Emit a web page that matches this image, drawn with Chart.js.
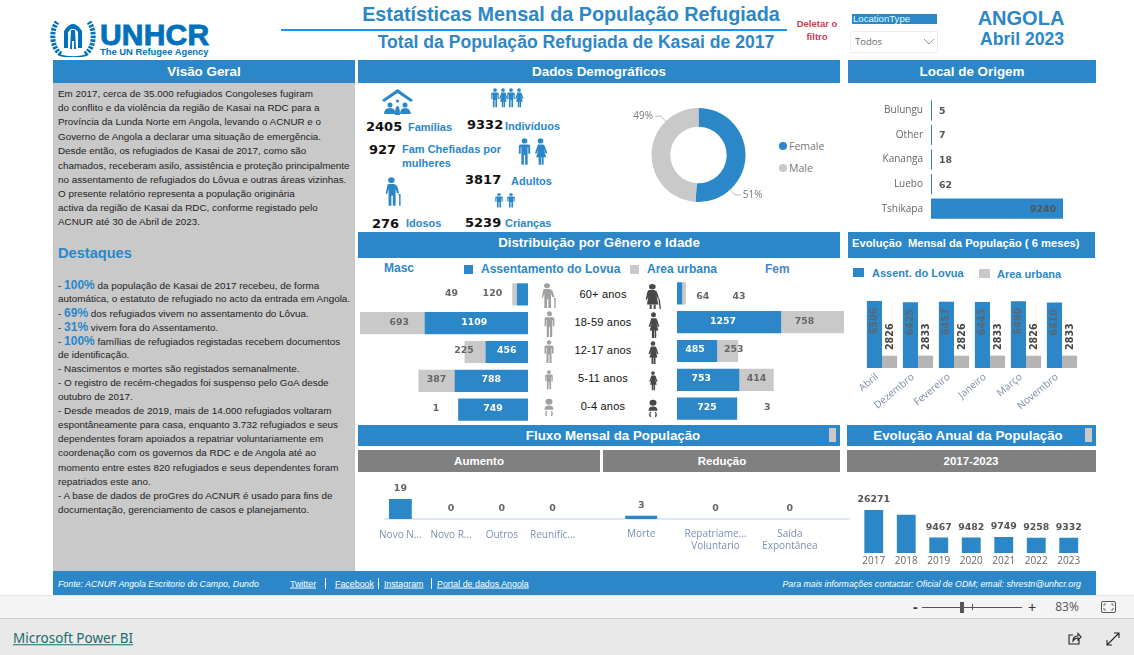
<!DOCTYPE html>
<html>
<head>
<meta charset="utf-8">
<title>Estatísticas Mensal da População Refugiada</title>
<script src="https://cdn.jsdelivr.net/npm/chart.js@4"></script>
<style>
  html, body { margin: 0; padding: 0; background: #fff; }
  #page { position: relative; width: 1134px; height: 655px; overflow: hidden; font-family: "Liberation Sans", Arial, sans-serif; }
  #page > div, #page > svg, #page > canvas { position: absolute; }
  .t { white-space: nowrap; line-height: 1; }
  .t b.hl { color: #2b87c8; font-size: 12px; font-weight: bold; }
  a { color: inherit; }
</style>
</head>
<body>
<div id="page"></div>
<script>
// ---- data ----
const genderLabels = ["Female", "Male"];
const genderShare = [51, 49];

const originPlaces = ["Bulungu", "Other", "Kananga", "Luebo", "Tshikapa"];
const originValues = [5, 7, 18, 62, 9240];

const ageGroups = ["60+ anos", "18-59 anos", "12-17 anos", "5-11 anos", "0-4 anos"];
const maleSettlement = [120, 1109, 456, 788, 749];
const maleUrban = [49, 693, 225, 387, 1];
const femaleSettlement = [64, 1257, 485, 753, 725];
const femaleUrban = [43, 758, 253, 414, 3];

const months = ["Abril", "Dezembro", "Fevereiro", "Janeiro", "Março", "Novembro"];
const monthSettlement = [6506, 6425, 6457, 6443, 6490, 6410];
const monthUrban = [2826, 2833, 2826, 2833, 2826, 2833];

const increaseTypes = ["Novo N...", "Novo R...", "Outros", "Reunific..."];
const increaseValues = [19, 0, 0, 0];
const decreaseTypes = ["Morte", ["Repatriame...", "Voluntario"], ["Saída", "Expontânea"]];
const decreaseValues = [3, 0, 0];

const years = ["2017", "2018", "2019", "2020", "2021", "2022", "2023"];
const yearTotals = [26271, 23300, 9467, 9482, 9749, 9258, 9332];

const overviewLines = [
  "Em 2017, cerca de 35.000 refugiados Congoleses fugiram",
  "do conflito e da violência da região de Kasai na RDC para a",
  "Província da Lunda Norte em Angola, levando o ACNUR e o",
  "Governo de Angola a declarar uma situação de emergência.",
  "Desde então, os refugiados de Kasai de 2017, como são",
  "chamados, receberam asilo, assistência e proteção principalmente",
  "no assentamento de refugiados do Lôvua e outras áreas vizinhas.",
  "O presente relatório representa a população originária",
  "activa da região de Kasai da RDC, conforme registado pelo",
  "ACNUR até 30 de Abril de 2023."
];
const highlightLines = [
  '- <b class="hl">100%</b> da população de Kasai de 2017 recebeu, de forma',
  "automática, o estatuto de refugiado no acto da entrada em Angola.",
  '- <b class="hl">69%</b> dos refugiados vivem no assentamento do Lôvua.',
  '- <b class="hl">31%</b> vivem fora do Assentamento.',
  '- <b class="hl">100%</b> famílias de refugiados registadas recebem documentos',
  "de identificação.",
  "- Nascimentos e mortes são registados semanalmente.",
  "- O registro de recém-chegados foi suspenso pelo GoA desde",
  "outubro de 2017.",
  "- Desde meados de 2019, mais de 14.000 refugiados voltaram",
  "espontâneamente para casa, enquanto 3.732 refugiados e seus",
  "dependentes foram apoiados a repatriar voluntariamente em",
  "coordenação com os governos da RDC e de Angola até ao",
  "momento entre estes 820 refugiados e seus dependentes foram",
  "repatriados este ano.",
  "- A base de dados de proGres do ACNUR é usado para fins de",
  "documentação, gerenciamento de casos e planejamento."
];

// ---- colours and helpers ----
const BLUE = "#2b87c8";
const GREY = "#c9c9c9";
const page = document.getElementById("page");
const valueFont = 'bold 9.4px "DejaVu Sans"';

function box(x, y, w, h, bg) {
  const d = document.createElement("div");
  d.style.cssText = `left:${x}px;top:${y}px;width:${w}px;height:${h}px;background:${bg}`;
  page.appendChild(d);
  return d;
}

// x is the left edge, centre or right edge depending on anchor, y is the vertical middle
function text(str, x, y, css, anchor) {
  const d = document.createElement("div");
  d.className = "t";
  d.innerHTML = str;
  const tx = anchor == "c" ? "-50%" : anchor == "r" ? "-100%" : "0";
  d.style.cssText = `left:${x}px;top:${y}px;transform:translate(${tx},-50%);${css}`;
  page.appendChild(d);
  return d;
}

function header(str, x, y, w, h, bg, size, textX, textY) {
  box(x, y, w, h, bg);
  text(str, textX || x + w / 2, textY || y + h / 2, `color:#fff;font-weight:bold;font-size:${size}px`, "c");
}

function svg(x, y, w, h, viewBox, inner, fill) {
  page.insertAdjacentHTML("beforeend",
    `<svg style="left:${x}px;top:${y}px" width="${w}" height="${h}" viewBox="${viewBox}" preserveAspectRatio="none" fill="${fill || "none"}">${inner}</svg>`);
}

const MAN = '<circle cx="12" cy="5" r="4.5"/><path d="M6 11h12q3 0 3 3v13h-3V16h-1v30h-4V29h-2v17H7V16H6v11H3V14q0-3 3-3z"/>';
const WOMAN = '<circle cx="12" cy="5" r="4.5"/><path d="M8 11h8q2 0 3 3l4 12h-3l-3-8 4 15h-4v13h-3V33h-1v13H9V33H5l4-15-3 8H3l4-12q0-3 1-3z"/>';
const OLD_MAN = '<circle cx="9" cy="5" r="4.5"/><path d="M5 11h7q4 0 6 6l2 9h-3l-2-7v27h-4V30h-2v16H5V19l-2 8H1l2-12q0-4 2-4z"/><path d="M19 27h3v19h-2V29h-1z"/>';
const OLD_WOMAN = '<circle cx="11" cy="5" r="5"/><path d="M6 11h8q4 1 5 7l2 9h-2l-2-6 3 17H3l2-15-2 6H1l2-12q1-6 3-6z"/><path d="M7 38h3v8H7zM13 38h3v8h-3zM20 27h2l2 19h-2z"/>';
const BABY = '<circle cx="12" cy="9" r="7"/><path d="M3 28q0-10 9-10t9 10z"/><path d="M7 31q-3 7 0 12M17 31q3 7 0 12" fill="none" stroke-width="2.5"/>';

function person(kind, x, y, w, h, color) {
  svg(x, y, w, h, "0 0 24 48", `<g stroke="${kind === BABY ? color : "none"}" stroke-width="0">${kind}</g>`, color);
}

// ---- panel backgrounds and headers ----
box(53, 83, 302, 488, GREY);
header("Visão Geral", 53, 60, 302, 23, BLUE, 13.4);
header("Dados Demográficos", 358, 60, 482, 23, BLUE, 13.4);
header("Local de Origem", 848, 60, 248, 23, BLUE, 13.4);
header("Distribuição por Gênero e Idade", 358, 232, 482, 26, BLUE, 13.3, null, 243);
box(848, 232, 247, 26, BLUE);
text("Evolução  Mensal da População ( 6 meses)", 852, 244, "color:#fff;font-weight:bold;font-size:11.2px;white-space:pre");
header("Fluxo Mensal da População", 358, 425, 482, 21, BLUE, 13.3, 613);
header("Evolução Anual da População", 847, 425, 249, 21, BLUE, 13.3, 968);
header("Aumento", 358, 450, 242, 22, "#808080", 11.5, 479, 462);
header("Redução", 603, 450, 237, 22, "#808080", 11.5, 722, 462);
header("2017-2023", 847, 450, 249, 22, "#808080", 11.5, 971, 462);
box(829, 428, 7, 14, GREY);
box(1085, 428, 7, 14, GREY);

// ---- top banner ----
svg(50, 19, 46, 38, "0 0 46 38",
  `<path d="M11 35C2 30 0 13 7 3" stroke="#0072bc" stroke-width="5" stroke-dasharray="2.5 1.2"/>
   <path d="M35 35C44 30 46 13 39 3" stroke="#0072bc" stroke-width="5" stroke-dasharray="2.5 1.2"/>
   <path d="M9 36q14 4 28 0" stroke="#0072bc" stroke-width="1.6"/>
   <path d="M14 29V12q9-14 18 0v17h-4V13q-5-7-10 0v16z" fill="#0072bc"/>
   <path d="M21 11h4l1 19h-2v-8h-2v8h-2z" fill="#0072bc"/><circle cx="23" cy="7.5" r="2.4" fill="#0072bc"/>`);
text("UNHCR", 100, 35, 'color:#0072bc;font-weight:bold;font-size:30px;letter-spacing:0.2px;-webkit-text-stroke:0.9px #0072bc');
text("The UN Refugee Agency", 100, 52, "color:#0072bc;font-weight:bold;font-size:9.4px");
box(281, 29, 506, 2, "#1e90ff");
text("Estatísticas Mensal da População Refugiada", 571, 15, `color:${BLUE};font-weight:bold;font-size:19.8px`, "c");
text("Total da População Refugiada de Kasai de 2017", 576, 43, `color:${BLUE};font-weight:bold;font-size:17.6px`, "c");
text("Deletar o", 817, 24, "color:#d13b50;font-weight:bold;font-size:9.5px", "c");
text("filtro", 817, 37, "color:#d13b50;font-weight:bold;font-size:9.5px", "c");
box(852, 14, 85, 10, BLUE);
text("LocationType", 853, 19, "color:#dff;font-size:9.6px");
const dropdown = box(850, 31, 86, 20, "#fff");
dropdown.style.border = "1px solid #eee";
text("Todos", 855, 42, 'color:#666;font-size:9.5px;font-family:"Open Sans"');
svg(923, 38, 12, 8, "0 0 12 8", '<path d="M1 1l5 5 5-5" stroke="#777" stroke-width="0.8"/>');
text("ANGOLA", 1021, 18, `color:${BLUE};font-weight:bold;font-size:20px`, "c");
text("Abril 2023", 1022, 40, `color:${BLUE};font-weight:bold;font-size:17.6px`, "c");

// ---- text panel ----
const overviewY = [94, 108, 122, 136.5, 151, 165.5, 179.5, 193.5, 208, 222];
overviewLines.forEach((line, i) => text(line, 58, overviewY[i], "color:#222;font-size:9.87px"));
text("Destaques", 58, 253, `color:${BLUE};font-weight:bold;font-size:14.6px`);
const highlightY = [285, 299, 313, 327, 341, 355, 369, 383, 397, 411, 425, 439, 453, 468, 482, 496, 510];
highlightLines.forEach((line, i) => text(line, 58, highlightY[i], "color:#222;font-size:9.9px"));

// ---- demographic key figures ----
svg(381, 87, 33, 29, "0 0 33 29",
  `<path d="M1 13L16.5 2 32 13l-2 2-13.5-9L3 15z" fill="${BLUE}"/>
   <circle cx="16.5" cy="14" r="1.6" fill="${BLUE}"/><circle cx="9" cy="18" r="2.5" fill="${BLUE}"/><circle cx="24" cy="18" r="2.5" fill="${BLUE}"/>
   <path d="M3 27q0-6 6-6t5 6zM19 27q0-6 5-6t6 6zM14 28q0-9 2.5-9t2.5 9z" fill="${BLUE}"/>`);
[490, 498, 506, 514].forEach((x, i) => person(i % 2 ? WOMAN : MAN, x, 88, 10, 20, BLUE));
person(MAN, 517, 138, 15, 28, BLUE);
person(WOMAN, 533, 138, 15, 28, BLUE);
person(OLD_MAN, 385, 177, 17, 30, BLUE);
person(MAN, 494, 193, 10, 15, BLUE);
person(MAN, 506, 193, 10, 15, BLUE);

const figure = 'color:#111;font-weight:bold;font-size:13px;font-family:"DejaVu Sans"';
const figureLabel = `color:${BLUE};font-weight:bold;font-size:11px`;
text("2405", 366, 126, figure);
text("Famílias", 408, 127, figureLabel);
text("9332", 467, 124, figure);
text("Indivíduos", 505, 126, figureLabel);
text("927", 369, 149, figure);
text("Fam Chefiadas por", 402, 149, figureLabel);
text("mulheres", 402, 163, figureLabel);
text("3817", 465, 179, figure);
text("Adultos", 511, 181, figureLabel);
text("276", 372, 223, figure);
text("Idosos", 406, 223, figureLabel);
text("5239", 465, 222, figure);
text("Crianças", 505, 223, figureLabel);

// ---- legends ----
const legendText = `color:${BLUE};font-weight:bold;font-size:12px`;
text("Masc", 384, 268, legendText);
box(464, 265, 9, 9, BLUE);
text("Assentamento do Lovua", 481, 269, legendText);
box(630, 265, 9, 9, GREY);
text("Area urbana", 647, 269, legendText);
text("Fem", 765, 269, "color:#4a86c8;font-weight:bold;font-size:12px");
box(853, 268, 11, 9, BLUE);
text("Assent. do Lovua", 872, 273, `color:${BLUE};font-weight:bold;font-size:11px`);
box(979, 269, 11, 9, GREY);
text("Area urbana", 997, 274, `color:${BLUE};font-weight:bold;font-size:11px`);

genderLabels.forEach((name, i) => {
  const dot = box(779, 142 + i * 22, 8, 8, i == 0 ? BLUE : GREY);
  dot.style.borderRadius = "50%";
  text(name, 789, 146 + i * 22, 'color:#777;font-size:10.5px;font-family:"Open Sans"');
});

// ---- age rows ----
const rowY = [294, 322, 350, 378, 406];
const maleIcons = [OLD_MAN, MAN, MAN, MAN, BABY];
const femaleIcons = [OLD_WOMAN, WOMAN, WOMAN, WOMAN, BABY];
const iconH = [26, 27, 24, 20, 20];
const iconW = [16, 13, 12, 10, 12];
ageGroups.forEach((name, i) => {
  text(name, 603, rowY[i], "color:#111;font-size:11px;letter-spacing:0.2px", "c");
  const h = iconH[i];
  const w = iconW[i];
  person(maleIcons[i], 549 - w / 2, rowY[i] + 2 - h / 2, w, h, "#a0a0a0");
  person(femaleIcons[i], 653 - w / 2, rowY[i] + 3 - h / 2, w, h, "#484848");
});

// ---- footer and window chrome ----
box(53, 571, 1043, 24, BLUE);
const footerItalic = "color:#fff;font-style:italic;font-size:8.8px";
text("Fonte: ACNUR Angola Escritorio do Campo, Dundo", 58, 584, footerItalic);
const footerLink = "color:#fff;font-size:8.9px;text-decoration:underline";
text("Twitter", 290, 584, footerLink);
text("Facebook", 335, 584, footerLink);
text("Instagram", 384, 584, footerLink);
text("Portal de dados Angola", 437, 584, footerLink);
[325, 378, 431].forEach((x) => box(x, 578, 1, 11, "#fff"));
text("Para mais informações contactar: Oficial de ODM; email: shrestn@unhcr.org", 1081, 584, footerItalic, "r");
box(0, 596, 1134, 23, "#f4f4f4");
box(0, 618, 1134, 37, "#e9e9e9");
box(0, 595, 1134, 1, "#e4e4e4");
box(0, 618, 1134, 1, "#cfcfcf");
text("-", 913, 607, "color:#333;font-size:14px;font-weight:bold");
box(922, 607, 100, 1, "#555");
box(960, 602, 4, 11, "#555");
box(972, 604, 1, 6, "#555");
text("+", 1032, 607, "color:#333;font-size:14px", "c");
text("83%", 1067, 607, 'color:#555;font-size:12px;font-family:"Open Sans"', "c");
svg(1101, 601, 15, 12, "0 0 15 12", '<rect x="0.5" y="0.5" width="14" height="11" rx="1.5" stroke="#555"/><path d="M3 5V3h2M10 3h2v2M12 7v2h-2M5 9H3V7" stroke="#555" stroke-width="0.8"/>');
text("Microsoft Power BI", 13, 639, 'color:#1c6b6c;font-size:13.5px;font-family:"Noto Sans";text-decoration:underline');
svg(1067, 631, 15, 15, "0 0 15 15", '<path d="M12 8v5H2V4h4M6 10q0-5 5-5V2.5l3 3.5-3 3V7q-3 0-5 3z" stroke="#222" stroke-width="1.1"/>');
svg(1106, 632, 14, 14, "0 0 14 14", '<path d="M1 13L13 1M8 1h5v5M6 13H1V8" stroke="#222" stroke-width="1.1"/>');
box(384, 518, 466, 2, "#dfeaf5");

// ---- charts ----
function canvas(x, y, w, h) {
  const c = document.createElement("canvas");
  c.width = w;
  c.height = h;
  c.style.cssText = `left:${x}px;top:${y}px;width:${w}px;height:${h}px`;
  page.appendChild(c);
  return c;
}

// draws value labels at the spot that place() gives for each bar
function barValues(place) {
  return {
    id: "barValues",
    afterDatasetsDraw(chart) {
      const ctx = chart.ctx;
      chart.data.datasets.forEach((ds, i) => {
        chart.getDatasetMeta(i).data.forEach((bar, j) => {
          const spot = place(bar, i, j, ds.data[j]);
          if (!spot) return;
          ctx.save();
          ctx.font = spot.font || valueFont;
          ctx.fillStyle = spot.color || "#666";
          ctx.textAlign = spot.align || "center";
          ctx.textBaseline = "middle";
          ctx.translate(spot.x, spot.y);
          if (spot.rotate) ctx.rotate(spot.rotate);
          ctx.fillText(ds.data[j], 0, 0);
          ctx.restore();
        });
      });
    },
  };
}

const quiet = { legend: { display: false }, tooltip: { enabled: false } };
const bareAxis = { grid: { display: false, drawTicks: false }, border: { display: false } };

// Gender donut, labels on leader lines
const donutCallouts = {
  id: "donutCallouts",
  afterDatasetsDraw(chart) {
    const ctx = chart.ctx;
    chart.getDatasetMeta(0).data.forEach((arc, i) => {
      const a = arc.startAngle + (arc.endAngle - arc.startAngle) * 0.75;
      const r = arc.outerRadius;
      const side = Math.cos(a) >= 0 ? 1 : -1;
      const x1 = arc.x + Math.cos(a) * (r - 1);
      const y1 = arc.y + Math.sin(a) * (r - 1);
      const x2 = arc.x + Math.cos(a) * (r + 7);
      const y2 = arc.y + Math.sin(a) * (r + 7);
      ctx.strokeStyle = "#bbb";
      ctx.beginPath();
      ctx.moveTo(x1, y1);
      ctx.lineTo(x2, y2);
      ctx.lineTo(x2 + side * 6, y2);
      ctx.stroke();
      ctx.font = '10px "Open Sans"';
      ctx.fillStyle = "#777";
      ctx.textAlign = side > 0 ? "left" : "right";
      ctx.textBaseline = "middle";
      ctx.fillText(genderShare[i] + "%", x2 + side * 8, y2);
    });
  },
};
new Chart(canvas(610, 100, 177, 110), {
  type: "doughnut",
  data: {
    labels: genderLabels,
    datasets: [{ data: genderShare, backgroundColor: [BLUE, GREY], borderWidth: 0 }],
  },
  options: { responsive: false, animation: false, radius: 47, cutout: "60%", plugins: quiet },
  plugins: [donutCallouts],
});

// Local de Origem, the canvas is taller than the rows because the hidden x axis keeps some margin
new Chart(canvas(848, 84, 248, 151), {
  type: "bar",
  data: {
    labels: originPlaces,
    datasets: [{ data: originValues, backgroundColor: BLUE, minBarLength: 1, categoryPercentage: 0.82, barPercentage: 1 }],
  },
  options: {
    responsive: false,
    animation: false,
    indexAxis: "y",
    layout: { padding: { right: 33 } },
    plugins: quiet,
    scales: {
      x: { display: false, min: 0, max: 9240, ticks: { display: false } },
      y: {
        ...bareAxis,
        afterFit(scale) { scale.width = 83; },
        ticks: { color: "#666", padding: 8, font: { family: "Open Sans", size: 10 } },
      },
    },
  },
  plugins: [barValues((bar, i, j, v) => v > 1000
    ? { x: bar.x - 7, y: bar.y + 1, align: "right", color: "#555" }
    : { x: bar.x + 7, y: bar.y + 1, align: "left", color: "#555" })],
});

// Gender and age pyramid: labels sit on the bar centre, nudged where the bar is too thin
const maleNudge = [[-30, -2, 0, 0, 0], [-63, 7, -11, 0, -22]];
const femaleNudge = [[23, -6, -2, -7, 0], [55, -8, 6, 0, 30]];
function pyramid(x, y, w, max, settlement, urban, nudge, reverse, lift) {
  return new Chart(canvas(x, y, w, 144), {
    type: "bar",
    data: {
      labels: ageGroups,
      datasets: [
        { data: settlement, backgroundColor: BLUE, categoryPercentage: 0.77, barPercentage: 1 },
        { data: urban, backgroundColor: GREY, categoryPercentage: 0.77, barPercentage: 1 },
      ],
    },
    options: {
      responsive: false,
      animation: false,
      indexAxis: "y",
      plugins: quiet,
      scales: {
        x: { display: false, stacked: true, min: 0, max: max, reverse: reverse },
        y: { display: false, stacked: true },
      },
    },
    plugins: [barValues((bar, i, j) => ({
      x: (bar.x + bar.base) / 2 + nudge[i][j],
      y: bar.y + (j == 0 ? lift : -1),
      color: i == 0 && Math.abs(bar.x - bar.base) > 30 ? "#fff" : "#666",
    }))],
  });
}
pyramid(360, 280, 168, 1802, maleSettlement, maleUrban, maleNudge, true, -1);
pyramid(677, 279, 167, 2015, femaleSettlement, femaleUrban, femaleNudge, false, 3);

// Monthly evolution, the value axis does not start at zero
new Chart(canvas(848, 295, 248, 135), {
  type: "bar",
  data: {
    labels: months,
    datasets: [
      { data: monthSettlement, backgroundColor: BLUE, categoryPercentage: 0.84, barPercentage: 1 },
      { data: monthUrban, backgroundColor: "#b5b5b5", categoryPercentage: 0.84, barPercentage: 1 },
    ],
  },
  options: {
    responsive: false,
    animation: false,
    layout: { padding: { left: 16, right: 16, top: 6 } },
    plugins: quiet,
    scales: {
      y: { display: false, min: 2000, max: 6506 },
      x: {
        ...bareAxis,
        afterFit(scale) { scale.height = 62; },
        ticks: { color: "#7d8ba6", minRotation: 40, maxRotation: 40, padding: 3, labelOffset: -5, font: { family: "Open Sans", size: 10 } },
      },
    },
  },
  plugins: [barValues((bar, i) => i == 0
    ? { x: bar.x, y: bar.y + 20, rotate: -Math.PI / 2, color: "#5c6670", font: 'bold 9.6px "DejaVu Sans"' }
    : { x: bar.x + 1, y: bar.y - 19, rotate: -Math.PI / 2, color: "#444", font: 'bold 9.6px "DejaVu Sans"' })],
});

// Population flow
const flowLabel = barValues((bar) => ({ x: bar.x, y: bar.y - 10, color: "#666" }));
function flowChart(x, w, types, values, left, right, barShare, tickPad) {
  return new Chart(canvas(x, 475, w, 95), {
    type: "bar",
    data: {
      labels: types,
      datasets: [{ data: values, backgroundColor: BLUE, categoryPercentage: 1, barPercentage: barShare }],
    },
    options: {
      responsive: false,
      animation: false,
      layout: { padding: { left: left, right: right, top: 24 } },
      plugins: quiet,
      scales: {
        y: { display: false, min: 0, max: 19 },
        x: {
          ...bareAxis,
          afterFit(scale) { scale.height = 51; },
          ticks: { color: "#7a90b5", autoSkip: false, maxRotation: 0, padding: tickPad, font: { family: "Open Sans", size: 10 } },
        },
      },
    },
    plugins: [flowLabel],
  });
}
flowChart(358, 242, increaseTypes, increaseValues, 17, 22, 0.45, 10);
flowChart(600, 240, decreaseTypes, decreaseValues, 4, 13, 0.43, 9);

// Yearly totals, 2018 has no value label in the original
new Chart(canvas(847, 490, 249, 80), {
  type: "bar",
  data: {
    labels: years,
    datasets: [{ data: yearTotals, backgroundColor: BLUE, categoryPercentage: 1, barPercentage: 0.58 }],
  },
  options: {
    responsive: false,
    animation: false,
    layout: { padding: { left: 10.5, right: 11, top: 20 } },
    plugins: quiet,
    scales: {
      y: { display: false, min: 0, max: 26271 },
      x: {
        ...bareAxis,
        afterFit(scale) { scale.height = 17; },
        ticks: { color: "#666", padding: 2, font: { family: "Open Sans", size: 10 } },
      },
    },
  },
  plugins: [barValues((bar, i, j) => j == 1 ? null : { x: bar.x, y: bar.y - 10, color: "#555" })],
});
</script>
</body>
</html>
